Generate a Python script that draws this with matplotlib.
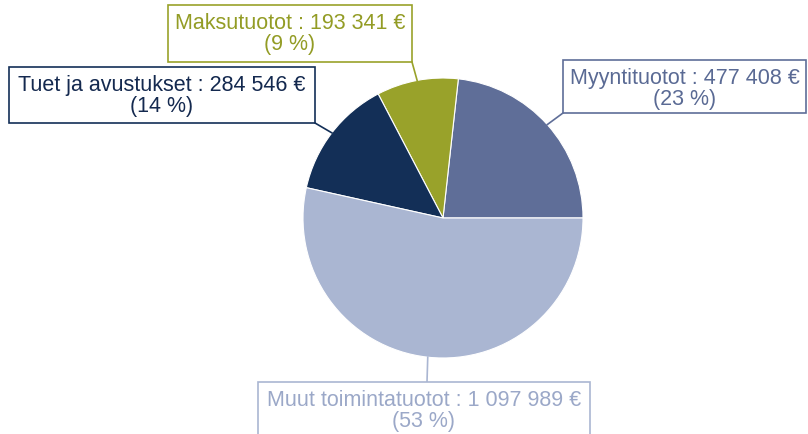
import matplotlib
matplotlib.use("Agg")
import matplotlib.pyplot as plt
from matplotlib.patches import Rectangle
import numpy as np

# revenue breakdown (EUR)
labels = ["Myyntituotot", "Maksutuotot", "Tuet ja avustukset", "Muut toimintatuotot"]
values = [477408, 193341, 284546, 1097989]
value_txt = ["477 408", "193 341", "284 546", "1 097 989"]
colors = ["#5f6e98", "#99a22a", "#132f57", "#aab6d2"]
text_colors = ["#5a6a94", "#939c25", "#14294f", "#9ba8c8"]

W, H = 808, 434
plt.rcParams["font.family"] = ["Liberation Sans", "DejaVu Sans"]

fig = plt.figure(figsize=(W / 100, H / 100), dpi=100)
ax = fig.add_axes([0, 0, 1, 1])

cx, cy, r = 443, H - 218, 140
wedges, _ = ax.pie(values, colors=colors, startangle=0, counterclock=True,
                   center=(cx, cy), radius=r, frame=True,
                   wedgeprops=dict(edgecolor="white", linewidth=0.8))
ax.set_xlim(0, W)
ax.set_ylim(0, H)
ax.set_aspect("equal")
ax.axis("off")

# label boxes in pixel coords (x0, y_top, x1, y_bottom) and leader anchor on the box
boxes = [(563, 60, 806, 113), (168, 5, 412, 62), (9, 67, 315, 123), (258, 382, 590, 445)]
anchors = [(563, 113), (412, 62), (315, 123), (427, 382)]

total = sum(values)
for i, w in enumerate(wedges):
    x0, y0, x1, y1 = boxes[i]
    ax.add_patch(Rectangle((x0, H - y1), x1 - x0, y1 - y0, facecolor="white",
                           edgecolor=colors[i], linewidth=1.2, zorder=3))
    pct = round(100 * values[i] / total)
    txt = f"{labels[i]} : {value_txt[i]} €\n({pct} %)"
    ax.text((x0 + x1) / 2, H - (y0 + 29), txt, ha="center", va="center", fontsize=15.5,
            color=text_colors[i], linespacing=1.05, zorder=4)
    ang = np.deg2rad((w.theta1 + w.theta2) / 2)
    px, py = cx + r * np.cos(ang), cy + r * np.sin(ang)
    bx, by = anchors[i]
    ax.plot([px, bx], [py, H - by], color=colors[i], lw=1.2, zorder=2)

fig.savefig("out.png", dpi=100)
